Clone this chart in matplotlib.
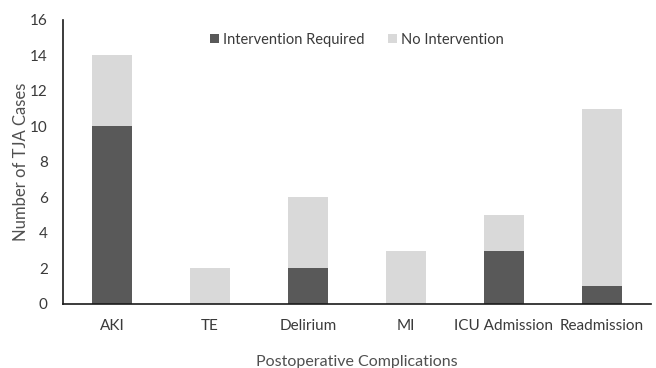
import matplotlib
matplotlib.use('Agg')
import matplotlib.pyplot as plt
import numpy as np

# Postoperative complication counts
categories = ['AKI', 'TE', 'Delirium', 'MI', 'ICU Admission', 'Readmission']
intervention_required = [10, 0, 2, 0, 3, 1]
no_intervention = [4, 2, 4, 3, 2, 10]

DARK = '#595959'
LIGHT = '#d9d9d9'
TEXT = '#3a3a3a'

plt.rcParams['font.family'] = ['Lato', 'DejaVu Sans']

fig = plt.figure(figsize=(6.56, 3.68), dpi=100)
ax = fig.add_axes([0.096, 0.174, 0.896, 0.772])

x = np.arange(len(categories))
w = 0.41
ax.bar(x, intervention_required, w, color=DARK, label='Intervention Required', zorder=2)
ax.bar(x, no_intervention, w, bottom=intervention_required, color=LIGHT,
       label='No Intervention', zorder=2)

ax.set_xlim(-0.5, len(categories) - 0.5)
ax.set_ylim(0, 16)
ax.set_yticks(range(0, 17, 2))
ax.set_xticks(x)
ax.set_xticklabels(categories)
ax.tick_params(axis='both', length=0, labelsize=11, colors=TEXT)
ax.tick_params(axis='x', pad=11)
ax.tick_params(axis='y', pad=11)

for side in ['top', 'right']:
    ax.spines[side].set_visible(False)
for side in ['left', 'bottom']:
    ax.spines[side].set_color('#1a1a1a')
    ax.spines[side].set_linewidth(1.2)

ax.set_ylabel('Number of TJA Cases', fontsize=12, color='#505050', labelpad=1)
ax.set_xlabel('Postoperative Complications', fontsize=11.5, color='#505050',
              labelpad=16)

ax.legend(loc='upper center', bbox_to_anchor=(0.5, 1.0), ncol=2, frameon=False,
          fontsize=10.5, labelcolor=TEXT, handlelength=0.6, handleheight=0.6,
          handletextpad=0.3, columnspacing=1.6)

fig.savefig('out.png', dpi=100)
